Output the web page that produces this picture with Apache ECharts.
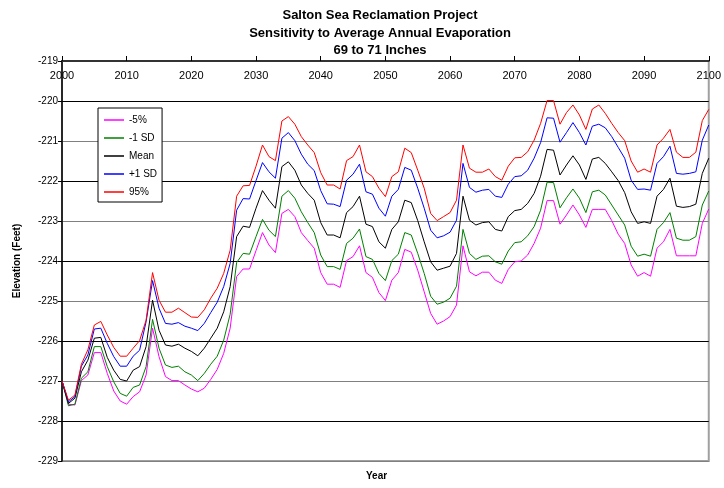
<!DOCTYPE html>
<html>
<head>
<meta charset="utf-8">
<script src="https://cdn.jsdelivr.net/npm/echarts@6/dist/echarts.min.js"></script>
<style>
  html, body { margin: 0; padding: 0; background: #fff; }
  #chart { width: 724px; height: 488px; }
</style>
</head>
<body>
<div id="chart"></div>
<script>
var years = [];
for (var y = 2000; y <= 2100; y++) years.push(y);

var seriesNames = ['-5%', '-1 SD', 'Mean', '+1 SD', '95%'];
var seriesColors = ['#ff00ff', '#008000', '#000000', '#0000ff', '#ff0000'];

var minus5 = [
  -227.0, -227.58, -227.6, -226.99, -226.85, -226.29, -226.29, -226.81, -227.25, -227.5,
  -227.58, -227.39, -227.27, -226.85, -225.68, -226.39, -226.89, -226.99, -226.99, -227.1,
  -227.2, -227.27, -227.18, -226.96, -226.71, -226.31, -225.68, -224.39, -224.2, -224.2,
  -223.74, -223.29, -223.6, -223.79, -222.81, -222.71, -222.89, -223.29, -223.49, -223.68,
  -224.29, -224.58, -224.58, -224.66, -223.99, -223.89, -223.62, -224.29, -224.41, -224.79,
  -224.99, -224.48, -224.29, -223.71, -223.78, -224.23, -224.77, -225.31, -225.58, -225.5,
  -225.39, -225.1, -223.62, -224.27, -224.37, -224.28, -224.28, -224.48, -224.56, -224.21,
  -224.02, -224.0, -223.85, -223.56, -223.18, -222.49, -222.49, -223.08, -222.85, -222.6,
  -222.85, -223.16, -222.71, -222.71, -222.71, -222.99, -223.33, -223.56, -224.1, -224.38,
  -224.29, -224.38, -223.68, -223.52, -223.21, -223.87, -223.87, -223.87, -223.87, -223.06,
  -222.7
];
var minus1sd = [
  -227.0, -227.62, -227.58, -226.93, -226.77, -226.14, -226.14, -226.64, -227.02, -227.31,
  -227.38, -227.16, -227.1, -226.64, -225.46, -226.18, -226.6, -226.66, -226.63, -226.77,
  -226.85, -226.99, -226.81, -226.58, -226.38, -225.98, -225.33, -224.04, -223.81, -223.83,
  -223.39, -222.96, -223.23, -223.39, -222.38, -222.24, -222.43, -222.77, -223.04, -223.29,
  -223.85, -224.14, -224.14, -224.21, -223.56, -223.43, -223.2, -223.89, -223.96, -224.31,
  -224.49, -223.99, -223.83, -223.29, -223.35, -223.81, -224.31, -224.88, -225.08, -225.03,
  -224.93, -224.63, -223.21, -223.81, -223.96, -223.88, -223.87, -224.02, -224.08, -223.75,
  -223.54, -223.52, -223.37, -223.14, -222.73, -222.03, -222.04, -222.67, -222.42, -222.2,
  -222.43, -222.79, -222.27, -222.23, -222.35, -222.6, -222.85, -223.1, -223.63, -223.88,
  -223.83, -223.88, -223.21, -223.04, -222.79, -223.43, -223.48, -223.48, -223.39, -222.6,
  -222.25
];
var mean = [
  -227.0, -227.56, -227.43, -226.77, -226.48, -225.93, -225.91, -226.41, -226.73, -226.96,
  -227.0, -226.73, -226.64, -226.14, -224.98, -225.73, -226.1, -226.13, -226.08, -226.18,
  -226.26, -226.37, -226.18, -225.93, -225.68, -225.27, -224.64, -223.39, -223.13, -223.16,
  -222.68, -222.24, -222.48, -222.68, -221.64, -221.52, -221.73, -222.1, -222.31, -222.48,
  -223.04, -223.35, -223.35, -223.42, -222.79, -222.64, -222.38, -223.08, -223.14, -223.52,
  -223.68, -223.21, -223.02, -222.48, -222.54, -222.99, -223.52, -224.02, -224.23, -224.18,
  -224.13, -223.81, -222.38, -222.98, -223.1, -223.04, -223.02, -223.21, -223.25, -222.89,
  -222.74, -222.71, -222.56, -222.31, -221.88, -221.21, -221.23, -221.85, -221.6, -221.37,
  -221.6, -221.96, -221.45, -221.41, -221.56, -221.77, -221.99, -222.29, -222.77, -223.06,
  -223.02, -223.06, -222.38, -222.21, -221.93, -222.63, -222.66, -222.64, -222.58, -221.81,
  -221.43
];
var plus1sd = [
  -227.0, -227.52, -227.39, -226.63, -226.35, -225.7, -225.68, -226.06, -226.39, -226.63,
  -226.63, -226.38, -226.23, -225.52, -224.49, -225.18, -225.56, -225.58, -225.54, -225.63,
  -225.68, -225.74, -225.56, -225.29, -225.03, -224.64, -224.06, -222.73, -222.44, -222.45,
  -221.99, -221.54, -221.77, -221.93, -220.93, -220.79, -220.99, -221.33, -221.58, -221.74,
  -222.24, -222.57, -222.58, -222.64, -221.98, -221.83, -221.58, -222.27, -222.33, -222.68,
  -222.88, -222.38, -222.21, -221.66, -221.73, -222.18, -222.68, -223.23, -223.42, -223.37,
  -223.28, -222.98, -221.56, -222.16, -222.28, -222.23, -222.21, -222.38, -222.41, -222.08,
  -221.89, -221.87, -221.73, -221.43, -221.04, -220.42, -220.43, -221.03, -220.79, -220.54,
  -220.79, -221.1, -220.63, -220.58, -220.67, -220.89, -221.16, -221.43, -221.98, -222.21,
  -222.2, -222.23, -221.56, -221.39, -221.13, -221.81, -221.83, -221.81, -221.77, -220.98,
  -220.6
];
var pct95 = [
  -227.0, -227.48, -227.35, -226.58, -226.22, -225.6, -225.51, -225.85, -226.16, -226.38,
  -226.38, -226.18, -225.99, -225.48, -224.29, -224.98, -225.28, -225.28, -225.18, -225.29,
  -225.4, -225.41, -225.22, -224.93, -224.68, -224.31, -223.73, -222.38, -222.12, -222.11,
  -221.63, -221.1, -221.39, -221.49, -220.5, -220.39, -220.58, -220.89, -221.1, -221.29,
  -221.79, -222.1, -222.1, -222.2, -221.49, -221.39, -221.1, -221.77, -221.89, -222.18,
  -222.39, -221.89, -221.77, -221.18, -221.29, -221.73, -222.18, -222.81, -222.99, -222.89,
  -222.79, -222.48, -221.1, -221.68, -221.78, -221.78, -221.7, -221.89, -221.98, -221.63,
  -221.42, -221.41, -221.27, -220.98, -220.56, -219.99, -219.99, -220.58, -220.29, -220.1,
  -220.35, -220.71, -220.2, -220.1, -220.31, -220.56, -220.79, -220.99, -221.5, -221.78,
  -221.7, -221.78, -221.1, -220.93, -220.71, -221.28, -221.41, -221.41, -221.28, -220.49,
  -220.21
];

var allData = [minus5, minus1sd, mean, plus1sd, pct95];
var font = '"Liberation Sans", Arial, sans-serif';

var chart = echarts.init(document.getElementById('chart'));
var series = [];
allData.forEach(function (d, i) {
  series.push({
    name: seriesNames[i],
    type: 'line',
    symbol: 'none',
    animation: false,
    lineStyle: { color: seriesColors[i], width: 1 },
    itemStyle: { color: seriesColors[i] },
    data: years.map(function (yr, k) { return [yr, d[k]]; })
  });
});

var option = {
  backgroundColor: '#fff',
  title: {
    text: 'Salton Sea Reclamation Project\nSensitivity to Average Annual Evaporation\n69 to 71 Inches',
    left: 375,
    top: 2,
    textAlign: 'center',
    textStyle: { fontFamily: font, fontSize: 13, fontWeight: 'bold', color: '#000', lineHeight: 17.5 }
  },
  legend: {
    orient: 'vertical',
    left: 98,
    top: 108,
    backgroundColor: '#fff',
    borderColor: '#000',
    borderWidth: 1,
    borderRadius: 0,
    padding: [6, 5, 4, 6],
    icon: 'rect',
    itemWidth: 20,
    itemHeight: 1.5,
    itemGap: 6,
    textStyle: { fontFamily: font, fontSize: 10, color: '#000', lineHeight: 12 },
    data: seriesNames
  },
  grid: {
    left: 62, right: 13, top: 61, bottom: 27,
    show: true,
    borderColor: '#a0a0a0',
    borderWidth: 2,
    backgroundColor: '#fff'
  },
  xAxis: {
    type: 'value',
    position: 'top',
    min: 2000, max: 2100, interval: 10,
    axisLine: { lineStyle: { color: '#333', width: 2 } },
    axisTick: { show: true, inside: false, length: 5, lineStyle: { color: '#000' } },
    axisLabel: {
      inside: true, margin: 9, fontFamily: font, fontSize: 11, color: '#000',
      formatter: function (v) { return String(v); }
    },
    splitLine: { show: false }
  },
  yAxis: {
    type: 'value',
    min: -229, max: -219, interval: 1,
    name: 'Elevation (Feet)',
    nameLocation: 'middle',
    nameGap: 40,
    nameTextStyle: { fontFamily: font, fontSize: 10, fontWeight: 'bold', color: '#000' },
    axisLine: { show: true, lineStyle: { color: '#000', width: 1.5 } },
    axisTick: { show: true, length: 4, lineStyle: { color: '#000' } },
    axisLabel: { margin: 4, fontFamily: font, fontSize: 10, color: '#000' },
    splitLine: { show: true, lineStyle: { color: ['#808080', '#000000'], width: 1.2 } }
  },
  graphic: [{
    type: 'text',
    left: 366,
    top: 471,
    style: { text: 'Year', font: 'bold 10px ' + font, fill: '#000' }
  }],
  series: series
};
chart.setOption(option);
</script>
</body>
</html>
